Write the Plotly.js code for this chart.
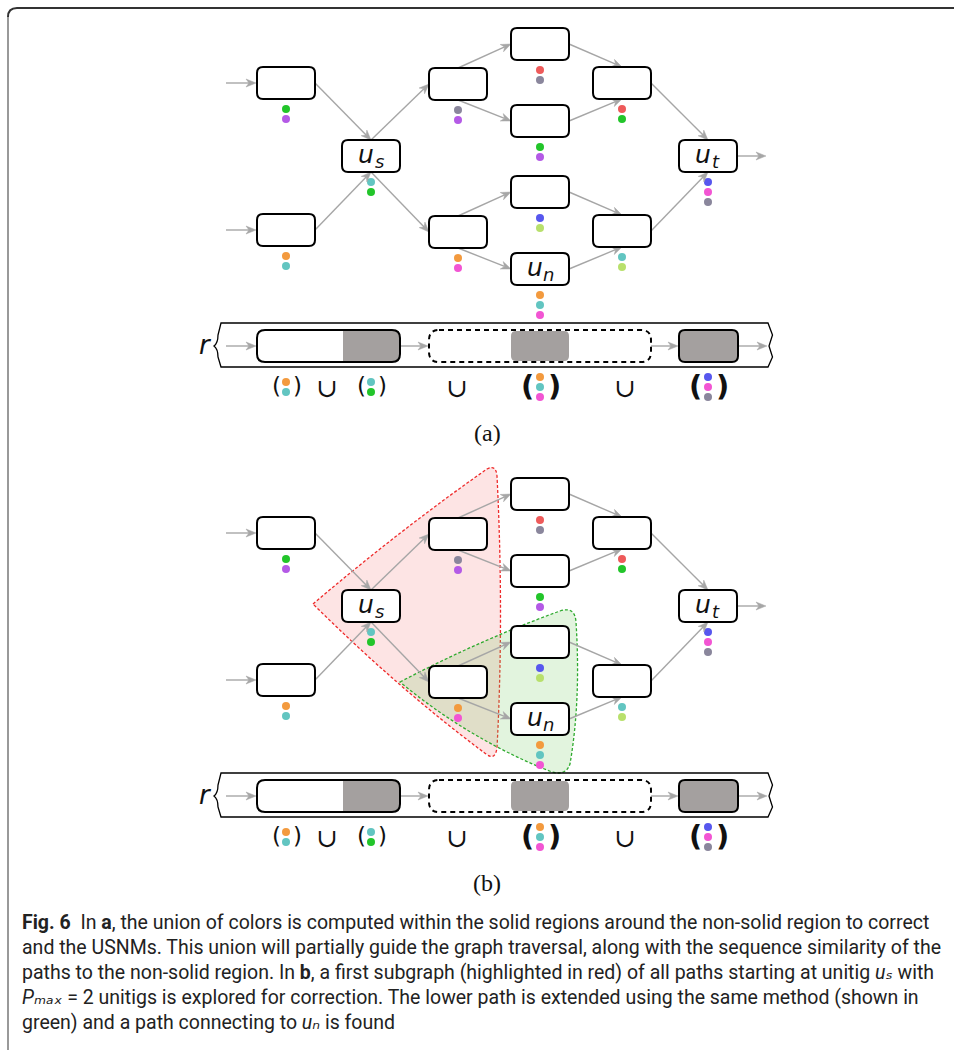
<!DOCTYPE html>
<html><head><meta charset="utf-8">
<script src="https://cdn.plot.ly/plotly-3.0.1.min.js"></script>
<style>html,body{margin:0;padding:0;background:#fff;}#chart{width:954px;height:1050px;}</style>
</head><body><div id="chart"></div>
<script>
// ---------------- data ----------------
const nodeIds    = ['L1','L2','us','A','B','C','D','E','un','F','G','ut'];
const nodeLabels = ['', '', 's', '', '', '', '', '', 'n', '', '', 't'];
const nodeX      = [286, 286, 371, 458, 458, 540, 540, 540, 540, 622, 622, 708];
const nodeY      = [83, 230, 156, 84, 232, 44, 121, 192, 269, 83, 231, 156];
const nodeDots   = [
  ['green','purple'], ['orange','teal'], ['teal','green'], ['gray','purple'],
  ['orange','magenta'], ['red','gray'], ['green','purple'], ['blue','lime'],
  ['orange','teal','magenta'], ['red','green'], ['teal','lime'], ['blue','magenta','gray']
];
const edgeFrom = ['L1','L2','us','us','A','A','C','D','F','B','B','E','un','G'];
const edgeTo   = ['us','us','A','B','C','D','F','F','ut','E','un','G','G','ut'];
const sourceNodes = ['L1','L2'];
const sinkNodes   = ['ut'];
const unionGroups = [['orange','teal'], ['teal','green'], ['orange','teal','magenta'], ['blue','magenta','gray']];
const unionGroupX = [286, 371, 540, 708];
const unionOpX    = [327, 457, 625];
const panelLabels = ['(a)', '(b)'];
const captionLines = [
  '<b>Fig. 6</b>  In <b>a</b>, the union of colors is computed within the solid regions around the non-solid region to correct',
  'and the USNMs. This union will partially guide the graph traversal, along with the sequence similarity of the',
  'paths to the non-solid region. In <b>b</b>, a first subgraph (highlighted in red) of all paths starting at unitig <i>uₛ</i> with',
  '<i>Pₘₐₓ</i> = 2 unitigs is explored for correction. The lower path is extended using the same method (shown in',
  'green) and a path connecting to <i>uₙ</i> is found'
];
const colorMap = {green:'#22c52a', purple:'#b45ae6', orange:'#f39a3e', teal:'#62c5c1', gray:'#8a869c',
  magenta:'#f255d3', red:'#ee5a5a', blue:'#5757ee', lime:'#b8e06c'};

// ---------------- drawing ----------------
const HW = 29, HH = 16, PANEL_DY = 450;
const ARROW = '#a6a6a6', GRAYFILL = '#a4a09f';
const shapes = [], arrowShapes = [], annotations = [];
const dotX = [], dotY = [], dotC = [];

function rr(x0, y0, x1, y1, r) {
  return `M${x0+r},${y0} L${x1-r},${y0} Q${x1},${y0} ${x1},${y0+r} L${x1},${y1-r} Q${x1},${y1} ${x1-r},${y1} L${x0+r},${y1} Q${x0},${y1} ${x0},${y1-r} L${x0},${y0+r} Q${x0},${y0} ${x0+r},${y0} Z`;
}
function arrow(sx, sy, tx, ty) {
  const dx = tx - sx, dy = ty - sy, len = Math.hypot(dx, dy);
  const ux = dx / len, uy = dy / len, nx = -uy, ny = ux;
  const L = 10, W = 4, N = 3;
  const bx = tx - L * ux, by = ty - L * uy;
  const mx = tx - (L - N) * ux, my = ty - (L - N) * uy;
  arrowShapes.push({type: 'line', layer: 'above', xref: 'x', yref: 'y', x0: sx, y0: sy, x1: mx, y1: my,
    line: {color: ARROW, width: 1.4}});
  arrowShapes.push({type: 'path', layer: 'above', xref: 'x', yref: 'y',
    path: `M${tx},${ty} L${bx + W*nx},${by + W*ny} L${mx},${my} L${bx - W*nx},${by - W*ny} Z`,
    fillcolor: ARROW, line: {color: ARROW, width: 0.5}});
}
function txt(x, y, text, size, family, extra) {
  annotations.push({x, y, xref: 'x', yref: 'y', text, showarrow: false,
    font: Object.assign({size, family, color: '#111'}, extra || {}), xanchor: 'center', yanchor: 'middle'});
}
function port(i, p, dy) {
  const x = nodeX[i], y = nodeY[i] + dy;
  if (p === 'r') return [x + HW, y];
  if (p === 'l') return [x - HW, y];
  if (p === 't') return [x, y - HH];
  return [x, y + HH];
}
const incoming = {};
edgeTo.forEach(t => incoming[t] = (incoming[t] || 0) + 1);

// highlight regions (panel b only)
shapes.push({type: 'path', layer: 'below', xref: 'x', yref: 'y',
  path: 'M313,604 Q400,530 487,469 Q496,464 497,476 Q504,615 497,748 Q495,761 486,754 Q400,690 313,604 Z',
  fillcolor: 'rgba(245,90,90,0.16)', line: {color: '#ee2a2a', width: 1.3, dash: '3px,2px'}});
shapes.push({type: 'path', layer: 'below', xref: 'x', yref: 'y',
  path: 'M400,682 Q480,640 560,611 Q575,606 576,622 Q581,700 570,764 Q566,776 552,772 Q470,740 400,682 Z',
  fillcolor: 'rgba(110,200,90,0.2)', line: {color: '#2eaa2e', width: 1.3, dash: '3px,2px'}});

const nodeShapes = [];
[0, PANEL_DY].forEach((dy, pi) => {
  // edges
  edgeFrom.forEach((f, k) => {
    const s = nodeIds.indexOf(f), t = nodeIds.indexOf(edgeTo[k]);
    const down = nodeY[t] > nodeY[s];
    let sp, tp;
    if (incoming[edgeTo[k]] > 1) { sp = 'r'; tp = down ? 't' : 'b'; }
    else { sp = down ? 'b' : 't'; tp = 'l'; }
    const a = port(s, sp, dy), b = port(t, tp, dy);
    arrow(a[0], a[1], b[0], b[1]);
  });
  sourceNodes.forEach(n => { const i = nodeIds.indexOf(n); arrow(nodeX[i] - HW - 31, nodeY[i] + dy, nodeX[i] - HW - 1, nodeY[i] + dy); });
  sinkNodes.forEach(n => { const i = nodeIds.indexOf(n); arrow(nodeX[i] + HW + 1, nodeY[i] + dy, nodeX[i] + HW + 29, nodeY[i] + dy); });
  // nodes
  nodeIds.forEach((id, i) => {
    nodeShapes.push({type: 'path', layer: 'above', xref: 'x', yref: 'y',
      path: rr(nodeX[i] - HW, nodeY[i] + dy - HH, nodeX[i] + HW, nodeY[i] + dy + HH, 6),
      fillcolor: '#ffffff', line: {color: '#000', width: 2}});
    if (nodeLabels[i]) {
      txt(nodeX[i] - 5, nodeY[i] + dy - 2, 'u', 25, 'DejaVu Sans', {style: 'italic'});
      txt(nodeX[i] + 8, nodeY[i] + dy + 5, nodeLabels[i], 18, 'DejaVu Sans', {style: 'italic'});
    }
    nodeDots[i].forEach((c, j) => { dotX.push(nodeX[i]); dotY.push(nodeY[i] + dy + HH + 10 + 10 * j); dotC.push(colorMap[c]); });
  });
  // read strip
  const ry = 346 + dy;
  nodeShapes.push({type: 'path', layer: 'above', xref: 'x', yref: 'y',
    path: `M221,${ry-23} L768,${ry-23} L772.5,${ry-11} L769,${ry} L772.5,${ry+11} L768,${ry+21} L221,${ry+21} L218,${ry+11} Q218,${ry+3} 214,${ry} Q218,${ry-3} 218,${ry-11} Z`,
    fillcolor: 'rgba(0,0,0,0)', line: {color: '#000', width: 1.3}});
  nodeShapes.push({type: 'path', layer: 'above', xref: 'x', yref: 'y',
    path: `M343,${ry-16} L394,${ry-16} Q400,${ry-16} 400,${ry-10} L400,${ry+10} Q400,${ry+16} 394,${ry+16} L343,${ry+16} Z`,
    fillcolor: GRAYFILL, line: {width: 0}});
  nodeShapes.push({type: 'path', layer: 'above', xref: 'x', yref: 'y', path: rr(257, ry - 16, 400, ry + 16, 8),
    fillcolor: 'rgba(0,0,0,0)', line: {color: '#000', width: 2}});
  nodeShapes.push({type: 'path', layer: 'above', xref: 'x', yref: 'y', path: rr(511, ry - 15, 569, ry + 15, 5),
    fillcolor: GRAYFILL, line: {width: 0}});
  nodeShapes.push({type: 'path', layer: 'above', xref: 'x', yref: 'y', path: rr(429, ry - 16, 651, ry + 16, 10),
    fillcolor: 'rgba(0,0,0,0)', line: {color: '#000', width: 2, dash: '5px,4px'}});
  nodeShapes.push({type: 'path', layer: 'above', xref: 'x', yref: 'y', path: rr(679, ry - 16, 738, ry + 16, 6),
    fillcolor: GRAYFILL, line: {color: '#000', width: 2}});
  arrow(226, ry, 256, ry); arrow(400, ry, 428, ry); arrow(651, ry, 678, ry); arrow(738, ry, 767, ry);
  txt(205, ry - 1, 'r', 26, 'DejaVu Sans', {style: 'italic'});
  // union row
  unionGroups.forEach((g, k) => {
    const gx = unionGroupX[k], big = g.length > 2;
    const cy = 387 + dy;
    g.forEach((c, j) => { dotX.push(gx); dotY.push(cy - (g.length - 1) * 5 + 10 * j); dotC.push(colorMap[c]); });
    const off = big ? 13 : 10;
    const ex = big ? {weight: 600} : {};
    txt(gx - off, cy - 1, '(', big ? 29 : 23, 'DejaVu Sans', ex);
    txt(gx + off + 1, cy - 1, ')', big ? 29 : 23, 'DejaVu Sans', ex);
  });
  unionOpX.forEach(x => txt(x, 388 + dy, '∪', 26, 'DejaVu Serif'));
  txt(487, 433 + dy, panelLabels[pi], 24, 'Liberation Serif');
});

// caption
captionLines.forEach((l, k) => {
  annotations.push({x: 20, y: 922 + 25 * k, xref: 'x', yref: 'y', text: l, showarrow: false,
    xanchor: 'left', yanchor: 'middle', font: {size: 19.5, family: 'Roboto, "DejaVu Sans", sans-serif', color: '#222'}});
});
// frame
const frameShapes = [
  {type: 'path', layer: 'above', xref: 'x', yref: 'y', path: 'M8,1050 L8,17', line: {color: '#777', width: 1.5}},
  {type: 'path', layer: 'above', xref: 'x', yref: 'y', path: 'M8,17 Q8,8 17,8 L960,8', line: {color: '#333', width: 2}}
];

const traces = [{type: 'scatter', mode: 'markers', x: dotX, y: dotY, hoverinfo: 'skip',
  marker: {size: 8, color: dotC, line: {width: 0}}, showlegend: false}];

const layout = {
  width: 954, height: 1050, margin: {l: 0, r: 0, t: 0, b: 0},
  paper_bgcolor: '#fff', plot_bgcolor: '#fff',
  xaxis: {range: [0, 954], visible: false, fixedrange: true},
  yaxis: {range: [1050, 0], visible: false, fixedrange: true},
  shapes: shapes.concat(arrowShapes, nodeShapes, frameShapes), annotations, showlegend: false
};
Plotly.newPlot('chart', traces, layout, {displayModeBar: false, staticPlot: true});
</script>
</body></html>
